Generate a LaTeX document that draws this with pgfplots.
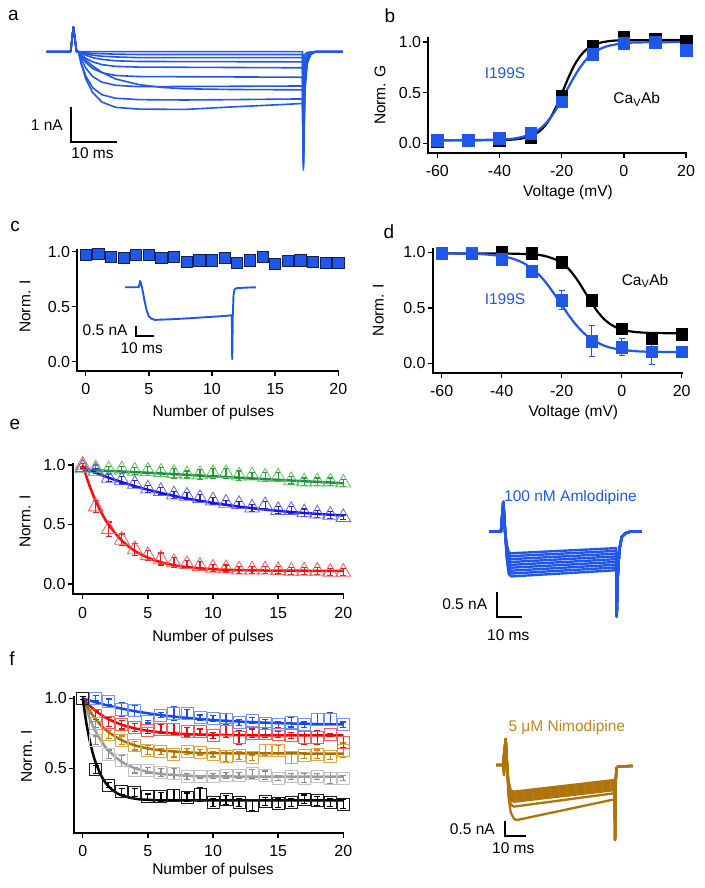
\documentclass[border=0pt]{standalone}
\usepackage{fontspec}
\setmainfont{Liberation Sans}
\usepackage{pgfplots}
\usepackage{pgfplotstable}
\pgfplotsset{compat=1.18}

\definecolor{blueT}{RGB}{31,87,232}
\definecolor{navyE}{RGB}{20,30,90}
\definecolor{gold}{RGB}{175,115,10}
\definecolor{goldtxt}{RGB}{195,135,25}
% panel e
\definecolor{eGl}{RGB}{90,200,90}\definecolor{eGd}{RGB}{40,160,40}\definecolor{eGf}{RGB}{30,140,70}
\definecolor{eBl}{RGB}{100,100,235}\definecolor{eBd}{RGB}{40,40,190}\definecolor{eBf}{RGB}{20,20,235}
\definecolor{eRl}{RGB}{250,90,90}\definecolor{eRd}{RGB}{225,30,30}\definecolor{eRf}{RGB}{255,10,10}
% panel f
\definecolor{fBl}{RGB}{110,150,250}\definecolor{fBd}{RGB}{30,80,230}\definecolor{fBf}{RGB}{20,70,250}
\definecolor{fRl}{RGB}{250,90,90}\definecolor{fRd}{RGB}{220,20,20}\definecolor{fRf}{RGB}{250,0,0}
\definecolor{fOl}{RGB}{225,170,60}\definecolor{fOd}{RGB}{205,135,20}\definecolor{fOf}{RGB}{170,110,0}
\definecolor{fGl}{RGB}{195,195,195}\definecolor{fGd}{RGB}{140,140,140}\definecolor{fGf}{RGB}{155,155,155}
\definecolor{fKl}{RGB}{30,30,30}

\newcommand\tk{\fontsize{16}{19}\selectfont}
\newcommand\lb{\fontsize{15.5}{18}\selectfont}
\newcommand\pl{\fontsize{19}{22}\selectfont}

\pgfplotsset{
  igor/.style={scale only axis, anchor=south west, clip=false,
    axis lines*=left, axis line style={line width=1.8pt, line cap=rect},
    tick align=outside, major tick length=5pt,
    tick style={black, line width=1.5pt},
    tick label style={font=\tk},
    xticklabel style={inner sep=1pt, yshift=-6.5pt},
    yticklabel style={inner sep=1pt, xshift=-1pt},
    minor tick num=0},
  trace/.style={scale only axis, anchor=south west, clip=false, hide axis},
  trB/.style={blueT, line width=1.6pt, line join=round},
  trW/.style={blueT, line width=2.4pt, line join=round},
  trG/.style={gold, line width=2.3pt, line join=round},
  bar/.style={black, line width=2pt, line join=miter},
  ebar/.style={error bars/.cd, y dir=both, y explicit,
    error bar style={#1, line width=1.2pt},
    error mark options={rotate=90, mark size=3pt, #1, line width=1.2pt}},
}

% panel b: normalised conductance
\pgfplotstableread{
v    bk    bl
-60  0.02  0.03
-50  0.03  0.03
-40  0.03  0.05
-30  0.06  0.10
-20  0.47  0.41
-10  0.96  0.88
0    1.05  0.99
10   1.03  1.00
20   1.01  0.92
}\tabB

% panel c
\pgfplotstableread{
n  v
0  0.97
1  0.98
2  0.95
3  0.94
4  0.97
5  0.97
6  0.945
7  0.955
8  0.91
9  0.92
10 0.92
11 0.945
12 0.90
13 0.92
14 0.95
15 0.89
16 0.915
17 0.92
18 0.91
19 0.895
20 0.90
}\tabC

% panel d: inactivation
\pgfplotstableread{
v    bk     bl     ble
-60  0.99   0.99   0.01
-50  0.99   0.99   0.01
-40  1.00   0.94   0.02
-30  0.99   0.83   0.03
-20  0.91   0.57   0.087
-10  0.57   0.20   0.14
0    0.31   0.145  0.075
10   0.225  0.105  0.115
20   0.26   0.105  0.01
}\tabD

% panel e: green / blue / red
\pgfplotstableread{
n  g     ge    b     be    r      re
0  0.97  0.01  0.98  0.01  1.00   0.01
1  0.97  0.03  0.95  0.02  0.65   0.05
2  0.96  0.03  0.89  0.03  0.46   0.06
3  0.96  0.03  0.87  0.03  0.37   0.05
4  0.95  0.03  0.84  0.03  0.29   0.05
5  0.95  0.04  0.80  0.03  0.24   0.04
6  0.94  0.04  0.78  0.03  0.21   0.05
7  0.93  0.04  0.75  0.03  0.18   0.04
8  0.92  0.03  0.74  0.03  0.165  0.03
9  0.92  0.04  0.72  0.03  0.15   0.04
10 0.93  0.04  0.70  0.03  0.135  0.03
11 0.93  0.04  0.68  0.02  0.13   0.03
12 0.91  0.04  0.67  0.02  0.12   0.03
13 0.91  0.03  0.64  0.03  0.12   0.03
14 0.90  0.04  0.66  0.03  0.12   0.03
15 0.90  0.04  0.62  0.03  0.115  0.03
16 0.87  0.03  0.62  0.03  0.11   0.03
17 0.86  0.03  0.60  0.03  0.11   0.03
18 0.86  0.03  0.59  0.03  0.11   0.03
19 0.86  0.03  0.58  0.03  0.10   0.03
20 0.85  0.03  0.56  0.02  0.10   0.03
}\tabE

% panel f: blue / red / gold / gray / black
\pgfplotstableread{
n  bl     ble    rd     rde   go     goe   gy     gye   bk     bke
0  1.00   0.01   1.00   0.01  1.00   0.01  1.00   0.01  1.00   0.01
1  1.00   0.02   0.88   0.03  0.82   0.03  0.70   0.03  0.49   0.03
2  0.975  0.02   0.83   0.03  0.74   0.03  0.60   0.03  0.38   0.02
3  0.92   0.05   0.81   0.03  0.70   0.03  0.555  0.04  0.333  0.02
4  0.91   0.04   0.79   0.03  0.66   0.03  0.486  0.02  0.326  0.03
5  0.833  0.01   0.77   0.02  0.63   0.03  0.486  0.02  0.297  0.02
6  0.88   0.02   0.78   0.03  0.62   0.02  0.47   0.03  0.297  0.03
7  0.893  0.05   0.78   0.04  0.60   0.02  0.46   0.04  0.307  0.04
8  0.89   0.03   0.76   0.03  0.62   0.02  0.44   0.02  0.293  0.03
9  0.86   0.02   0.76   0.02  0.615  0.02  0.44   0.01  0.312  0.05
10 0.857  0.02   0.733  0.02  0.60   0.02  0.445  0.02  0.257  0.03
11 0.85   0.04   0.78   0.06  0.585  0.04  0.45   0.02  0.274  0.03
12 0.826  0.02   0.72   0.05  0.59   0.03  0.45   0.02  0.255  0.03
13 0.84   0.02   0.75   0.03  0.575  0.02  0.46   0.03  0.238  0.04
14 0.817  0.03   0.75   0.03  0.63   0.04  0.45   0.03  0.264  0.03
15 0.81   0.02   0.74   0.02  0.625  0.04  0.43   0.02  0.25   0.03
16 0.83   0.035  0.735  0.02  0.575  0.04  0.44   0.02  0.257  0.03
17 0.81   0.02   0.72   0.05  0.59   0.02  0.43   0.03  0.279  0.03
18 0.85   0.04   0.72   0.05  0.60   0.03  0.44   0.02  0.267  0.03
19 0.85   0.045  0.74   0.01  0.585  0.02  0.43   0.04  0.255  0.03
20 0.81   0.02   0.686  0.04  0.63   0.05  0.43   0.02  0.245  0.03
}\tabF

\begin{document}
\begin{tikzpicture}
\useasboundingbox (0pt,0pt) rectangle (704pt,888pt);

%% ---------- a: current traces (ms, nA)
\begin{axis}[trace, at={(46.7pt,713.8pt)}, width=295.8pt, height=150.5pt,
  xmin=0, xmax=64.3, ymin=-3.5, ymax=0.8]
\addplot[trB] coordinates {(0,0)(5.2,0)(5.5,0.35)(5.8,0.71)(6.1,0.35)(6.5,0)(6.9,0)(55.6,0)(55.8,-0.3)(56.1,-0.08)(56.6,-0.02)(58.5,0)(64.3,0)};
\addplot[trB] coordinates {(0,0)(5.2,0)(5.8,0.71)(6.5,0)(6.9,0)(8.5,-0.03)(10,-0.05)(15,-0.07)(20,-0.08)(55.6,-0.08)(55.8,-1.2)(56.1,-0.28)(56.6,-0.07)(57.4,-0.01)(58.5,0)(64.3,0)};
\addplot[trB] coordinates {(0,0)(5.2,0)(5.8,0.71)(6.5,0)(6.9,0)(7.5,-0.02)(8.5,-0.06)(10,-0.10)(12,-0.13)(15,-0.15)(20,-0.17)(55.6,-0.17)(55.8,-1.8)(56.1,-0.42)(56.6,-0.1)(57.4,-0.02)(58.5,0)(64.3,0)};
\addplot[trB] coordinates {(0,0)(5.2,0)(5.8,0.71)(6.5,0)(6.9,0)(7.5,-0.05)(8.5,-0.10)(10,-0.17)(12,-0.22)(15,-0.26)(20,-0.28)(55.6,-0.29)(55.8,-2.2)(56.1,-0.55)(56.6,-0.14)(57.4,-0.03)(58.5,0)(64.3,0)};
\addplot[trB] coordinates {(0,0)(5.2,0)(5.8,0.71)(6.5,0)(6.9,0)(7.5,-0.08)(8.5,-0.19)(10,-0.29)(12,-0.37)(15,-0.42)(20,-0.44)(55.6,-0.46)(55.8,-2.6)(56.1,-0.7)(56.6,-0.18)(57.4,-0.04)(58.5,0)(64.3,0)};
\addplot[trB] coordinates {(0,0)(5.2,0)(5.8,0.71)(6.5,0)(6.9,0)(7.5,-0.14)(8.5,-0.31)(10,-0.48)(12,-0.60)(15,-0.68)(20,-0.71)(55.6,-0.73)(55.8,-2.9)(56.1,-0.85)(56.6,-0.22)(57.4,-0.05)(58.5,0)(64.3,0)};
\addplot[trB] coordinates {(0,0)(5.2,0)(5.8,0.71)(6.5,0)(6.9,0)(7.5,-0.21)(8.5,-0.47)(10,-0.71)(12,-0.87)(15,-0.96)(20,-1.0)(55.6,-0.98)(55.8,-3.1)(56.1,-0.95)(56.6,-0.26)(57.4,-0.05)(58.5,0)(64.3,0)};
\addplot[trB] coordinates {(0,0)(5.2,0)(5.8,0.71)(6.5,0)(6.9,0)(7.5,-0.10)(8.5,-0.24)(10,-0.41)(12,-0.59)(15,-0.78)(20,-0.94)(25,-1.02)(30,-1.06)(40,-1.08)(55.6,-1.09)(55.8,-3.2)(56.1,-1.0)(56.6,-0.28)(57.4,-0.06)(58.5,0)(64.3,0)};
\addplot[trB] coordinates {(0,0)(5.2,0)(5.8,0.71)(6.5,0)(6.9,0)(7.5,-0.33)(8.5,-0.70)(10,-1.03)(12,-1.23)(15,-1.33)(20,-1.37)(30,-1.38)(40,-1.37)(55.6,-1.35)(55.8,-3.3)(56.1,-1.1)(56.6,-0.3)(57.4,-0.07)(58.5,0)(64.3,0)};
\addplot[trB] coordinates {(0,0)(5.2,0)(5.8,0.71)(6.5,0)(6.9,0)(7.5,-0.35)(8.5,-0.78)(10,-1.17)(12,-1.44)(15,-1.59)(20,-1.64)(30,-1.65)(40,-1.58)(48,-1.53)(55.6,-1.48)(55.8,-3.38)(56.1,-1.2)(56.6,-0.35)(57.4,-0.08)(58.5,0)(64.3,0)};
% scale bar 1 nA / 10 ms
\addplot[bar] coordinates {(5.2,-1.57)(5.2,-2.57)(15.2,-2.57)};
\end{axis}

%% ---------- b: activation
\begin{axis}[igor, at={(428.3pt,735.3pt)}, width=257.7pt, height=114.7pt,
  xmin=-62.9, xmax=20, ymin=-0.093, ymax=1.04,
  xtick={-60,-40,-20,0,20}, xticklabels={-60,-40,-20,0,20},
  ytick={0,0.5,1}, yticklabels={0.0,0.5,1.0}]
\addplot[only marks, mark=square*, mark size=5.8pt, mark options={black, fill=black}] table[x=v, y=bk] {\tabB};
\addplot[black, line width=2.2pt, smooth] coordinates {(-60,0.03)(-40,0.032)(-34,0.042)(-30,0.069)(-28,0.100)(-26,0.151)(-24,0.232)(-22,0.346)(-20,0.487)(-18,0.636)(-16,0.766)(-14,0.863)(-12,0.928)(-10,0.967)(-8,0.990)(-5,1.008)(0,1.017)(20,1.02)};
\addplot[only marks, mark=square*, mark size=5.8pt, mark options={blueT, fill=blueT}] table[x=v, y=bl] {\tabB};
\addplot[blueT, line width=2.2pt, smooth] coordinates {(-60,0.03)(-40,0.036)(-34,0.054)(-30,0.089)(-28,0.122)(-26,0.169)(-24,0.236)(-22,0.324)(-20,0.429)(-18,0.544)(-16,0.655)(-14,0.752)(-12,0.830)(-10,0.887)(-8,0.926)(-5,0.962)(0,0.988)(5,0.996)(20,1.0)};
\end{axis}

%% ---------- c: use dependence, I199S
\begin{axis}[igor, at={(77.3pt,517.3pt)}, width=261pt, height=120.7pt,
  xmin=-0.665, xmax=20, ymin=-0.082, ymax=1.015,
  xtick={0,5,10,15,20}, xticklabels={0,5,10,15,20},
  ytick={0,0.5,1}, yticklabels={0.0,0.5,1.0}]
\addplot[only marks, mark=square*, mark size=5.6pt, mark options={draw=navyE, fill=blueT, line width=0.8pt}] table[x=n, y=v] {\tabC};
\end{axis}
\begin{axis}[trace, at={(125pt,526.7pt)}, width=131pt, height=82pt,
  xmin=0, xmax=71.6, ymin=-3.7, ymax=0.4]
\addplot[blueT, line width=1.9pt, line join=round] coordinates {(0,0)(7.5,0)(8.0,0.2)(8.3,0.32)(8.8,0.15)(9.3,0)(10.5,-0.6)(11.8,-1.15)(13,-1.45)(14.5,-1.57)(16.4,-1.63)(25,-1.6)(35,-1.55)(45,-1.49)(55,-1.43)(58.4,-1.40)(58.6,-3.6)(58.9,-1.5)(59.3,-0.4)(59.8,-0.12)(60.7,-0.05)(65,-0.02)(71.6,0)};
\addplot[bar] coordinates {(6,-1.94)(6,-2.44)(16,-2.44)};
\end{axis}

%% ---------- d: inactivation
\begin{axis}[igor, at={(432.7pt,515.3pt)}, width=249pt, height=123.4pt,
  xmin=-63, xmax=20, ymin=-0.085, ymax=1.027,
  xtick={-60,-40,-20,0,20}, xticklabels={-60,-40,-20,0,20},
  ytick={0,0.5,1}, yticklabels={0.0,0.5,1.0}]
\addplot[only marks, mark=square*, mark size=5.8pt, mark options={black, fill=black}] table[x=v, y=bk] {\tabD};
\addplot[black, line width=2.2pt, smooth] coordinates {(-60,0.990)(-40,0.989)(-30,0.982)(-26,0.969)(-22,0.935)(-20,0.904)(-18,0.859)(-16,0.796)(-14,0.718)(-12,0.630)(-10,0.542)(-8,0.464)(-6,0.401)(-4,0.356)(-2,0.325)(0,0.304)(4,0.283)(10,0.273)(20,0.27)};
\addplot[blueT, only marks, mark=square*, mark size=5.8pt, mark options={blueT, fill=blueT}, ebar=blueT] table[x=v, y=bl, y error=ble] {\tabD};
\addplot[blueT, line width=2.2pt, smooth] coordinates {(-60,0.989)(-50,0.986)(-45,0.980)(-40,0.965)(-36,0.940)(-32,0.892)(-28,0.809)(-26,0.751)(-24,0.682)(-22,0.605)(-20,0.525)(-18,0.446)(-16,0.372)(-14,0.309)(-12,0.256)(-10,0.215)(-6,0.160)(-2,0.130)(4,0.110)(10,0.103)(20,0.101)};
\end{axis}

%% ---------- e: use dependence with drugs
\begin{axis}[igor, at={(72.7pt,293.7pt)}, width=270.6pt, height=130.5pt,
  xmin=-0.767, xmax=20, ymin=-0.087, ymax=1.01,
  xtick={0,5,10,15,20}, xticklabels={0,5,10,15,20},
  ytick={0,0.5,1}, yticklabels={0.0,0.5,1.0}]
\addplot[eGl, only marks, mark=triangle, mark size=8.5pt, mark options={line width=0.8pt}, ebar=eGd] table[x=n, y=g, y error=ge] {\tabE};
\addplot[eBl, only marks, mark=triangle, mark size=8.5pt, mark options={line width=0.8pt}, ebar=eBd] table[x=n, y=b, y error=be] {\tabE};
\addplot[eRl, only marks, mark=triangle, mark size=8.5pt, mark options={line width=0.8pt}, ebar=eRd] table[x=n, y=r, y error=re] {\tabE};
\addplot[eGf, line width=2.5pt] coordinates {(0,0.96)(5,0.935)(10,0.905)(15,0.875)(20,0.847)};
\addplot[eBf, line width=2.5pt, smooth] coordinates {(0,0.98)(2,0.893)(4,0.822)(6,0.765)(8,0.718)(10,0.681)(12,0.650)(14,0.625)(16,0.605)(18,0.589)(20,0.576)};
\addplot[eRf, line width=2.5pt, smooth] coordinates {(0,1.0)(0.5,0.833)(1,0.697)(1.5,0.586)(2,0.497)(3,0.365)(4,0.278)(5,0.221)(6,0.183)(7,0.158)(8,0.142)(10,0.124)(12,0.116)(15,0.112)(20,0.110)};
\end{axis}
\begin{axis}[trace, at={(489.3pt,243.2pt)}, width=152.4pt, height=149.1pt,
  xmin=0, xmax=62.7, ymin=-2.2, ymax=0.7]
\addplot[trW] coordinates {(0,0)(4.8,0)(5.2,0.3)(5.76,0.58)(6.2,0.3)(6.5,0)(7.2,-0.252)(8,-0.399)(9,-0.42)(52.2,-0.32)(52.4,-1.65)(52.8,-0.9)(53.5,-0.35)(54.5,-0.1)(56,-0.03)(58,0)(62.7,0)};
\addplot[trW] coordinates {(0,0)(4.8,0)(5.76,0.58)(6.5,0)(7.2,-0.286)(8,-0.452)(9,-0.476)(52.2,-0.374)(52.4,-1.65)(52.8,-0.9)(53.5,-0.35)(54.5,-0.1)(56,-0.03)(58,0)(62.7,0)};
\addplot[trW] coordinates {(0,0)(4.8,0)(5.76,0.58)(6.5,0)(7.2,-0.320)(8,-0.506)(9,-0.533)(52.2,-0.428)(52.4,-1.65)(52.8,-0.9)(53.5,-0.35)(54.5,-0.1)(56,-0.03)(58,0)(62.7,0)};
\addplot[trW] coordinates {(0,0)(4.8,0)(5.76,0.58)(6.5,0)(7.2,-0.353)(8,-0.560)(9,-0.589)(52.2,-0.481)(52.4,-1.65)(52.8,-0.9)(53.5,-0.35)(54.5,-0.1)(56,-0.03)(58,0)(62.7,0)};
\addplot[trW] coordinates {(0,0)(4.8,0)(5.76,0.58)(6.5,0)(7.2,-0.387)(8,-0.613)(9,-0.645)(52.2,-0.535)(52.4,-1.65)(52.8,-0.9)(53.5,-0.35)(54.5,-0.1)(56,-0.03)(58,0)(62.7,0)};
\addplot[trW] coordinates {(0,0)(4.8,0)(5.76,0.58)(6.5,0)(7.2,-0.421)(8,-0.666)(9,-0.701)(52.2,-0.589)(52.4,-1.65)(52.8,-0.9)(53.5,-0.35)(54.5,-0.1)(56,-0.03)(58,0)(62.7,0)};
\addplot[trW] coordinates {(0,0)(4.8,0)(5.76,0.58)(6.5,0)(7.2,-0.455)(8,-0.720)(9,-0.758)(52.2,-0.643)(52.4,-1.65)(52.8,-0.9)(53.5,-0.35)(54.5,-0.1)(56,-0.03)(58,0)(62.7,0)};
\addplot[trW] coordinates {(0,0)(4.8,0)(5.76,0.58)(6.5,0)(7.2,-0.488)(8,-0.773)(9,-0.814)(52.2,-0.696)(52.4,-1.65)(52.8,-0.9)(53.5,-0.35)(54.5,-0.1)(56,-0.03)(58,0)(62.7,0)};
\addplot[trW] coordinates {(0,0)(4.8,0)(5.76,0.58)(6.5,0)(7.2,-0.522)(8,-0.827)(9,-0.870)(52.2,-0.750)(52.4,-1.65)(52.8,-0.9)(53.5,-0.35)(54.5,-0.1)(56,-0.03)(58,0)(62.7,0)};
\addplot[bar] coordinates {(3.3,-1.17)(3.3,-1.665)(13.3,-1.665)};
\end{axis}

%% ---------- f: use dependence, several drugs
\begin{axis}[igor, at={(74pt,55.3pt)}, width=269.3pt, height=135.8pt,
  xmin=-0.67, xmax=20, ymin=0.04, ymax=1.01,
  xtick={0,5,10,15,20}, xticklabels={0,5,10,15,20},
  ytick={0.5,1}, yticklabels={0.5,1.0}]
\addplot[fGl, only marks, mark=square, mark size=6pt, mark options={line width=0.9pt}, ebar=fGd] table[x=n, y=gy, y error=gye] {\tabF};
\addplot[fOl, only marks, mark=square, mark size=6pt, mark options={line width=0.9pt}, ebar=fOd] table[x=n, y=go, y error=goe] {\tabF};
\addplot[fRl, only marks, mark=square, mark size=6pt, mark options={line width=0.9pt}, ebar=fRd] table[x=n, y=rd, y error=rde] {\tabF};
\addplot[fBl, only marks, mark=square, mark size=6pt, mark options={line width=0.9pt}, ebar=fBd] table[x=n, y=bl, y error=ble] {\tabF};
\addplot[fKl, only marks, mark=square, mark size=6pt, mark options={line width=0.9pt}, ebar=black] table[x=n, y=bk, y error=bke] {\tabF};
\addplot[fGf, line width=2.5pt, smooth] coordinates {(0,1.0)(0.5,0.864)(1,0.761)(1.5,0.683)(2,0.624)(3,0.546)(4,0.501)(5,0.475)(6,0.460)(8,0.447)(10,0.442)(20,0.44)};
\addplot[fOf, line width=2.5pt, smooth] coordinates {(0,1.0)(0.5,0.916)(1,0.850)(1.5,0.798)(2,0.757)(3,0.700)(4,0.664)(5,0.642)(6,0.628)(8,0.614)(10,0.608)(20,0.605)};
\addplot[fRf, line width=2.5pt, smooth] coordinates {(0,1.0)(0.5,0.950)(1,0.910)(1.5,0.877)(2,0.850)(3,0.811)(4,0.785)(5,0.768)(6,0.757)(8,0.744)(10,0.739)(13,0.736)(20,0.735)};
\addplot[fBf, line width=2.5pt, smooth] coordinates {(0,1.0)(1,0.971)(2,0.947)(3,0.926)(4,0.908)(5,0.893)(6,0.880)(8,0.860)(10,0.845)(12,0.834)(14,0.826)(16,0.820)(18,0.816)(20,0.813)};
\addplot[black, line width=2.5pt, smooth] coordinates {(0,1.0)(0.25,0.839)(0.5,0.713)(0.75,0.615)(1,0.539)(1.5,0.433)(2,0.369)(2.5,0.330)(3,0.306)(4,0.283)(5,0.275)(7,0.271)(20,0.27)};
\end{axis}
\begin{axis}[trace, at={(496pt,43.4pt)}, width=136.7pt, height=110.2pt,
  xmin=0, xmax=65.1, ymin=-2.6, ymax=1.0]
\addplot[trG] coordinates {(0,0)(3.3,0)(3.8,-0.33)(4.2,0)(4.6,0.85)(5.1,0.2)(5.9,-0.522)(7.0,-0.827)(8.5,-0.87)(56.5,-0.49)(56.7,-2.45)(57.0,-0.5)(57.4,-0.1)(58,-0.05)(65.1,-0.03)};
\addplot[trG] coordinates {(0,0)(3.3,0)(3.8,-0.33)(4.2,0)(4.6,0.85)(5.1,0.2)(5.9,-0.562)(7.0,-0.889)(8.5,-0.936)(56.5,-0.556)(56.7,-2.45)(57.0,-0.5)(57.4,-0.1)(58,-0.05)(65.1,-0.03)};
\addplot[trG] coordinates {(0,0)(3.3,0)(4.6,0.85)(5.1,0.2)(5.9,-0.601)(7.0,-0.952)(8.5,-1.002)(56.5,-0.622)(56.7,-2.45)(57.0,-0.5)(57.4,-0.1)(58,-0.05)(65.1,-0.03)};
\addplot[trG] coordinates {(0,0)(3.3,0)(4.6,0.85)(5.1,0.2)(5.9,-0.641)(7.0,-1.015)(8.5,-1.068)(56.5,-0.688)(56.7,-2.45)(57.0,-0.5)(57.4,-0.1)(58,-0.05)(65.1,-0.03)};
\addplot[trG] coordinates {(0,0)(3.3,0)(4.6,0.85)(5.1,0.2)(5.9,-0.680)(7.0,-1.077)(8.5,-1.134)(56.5,-0.754)(56.7,-2.45)(57.0,-0.5)(57.4,-0.1)(58,-0.05)(65.1,-0.03)};
\addplot[trG] coordinates {(0,0)(3.3,0)(4.6,0.85)(5.1,0.2)(5.9,-0.72)(7.0,-1.14)(8.5,-1.2)(56.5,-0.82)(56.7,-2.45)(57.0,-0.5)(57.4,-0.1)(58,-0.05)(65.1,-0.03)};
\addplot[trG] coordinates {(0,0)(3.3,0)(4.6,0.85)(5.1,0.2)(5.9,-0.816)(7.0,-1.292)(8.5,-1.36)(56.5,-0.92)(56.7,-2.45)(57.0,-0.5)(57.4,-0.1)(58,-0.05)(65.1,-0.03)};
\addplot[trG] coordinates {(0,0)(3.3,0)(4.6,0.85)(5.1,0.2)(5.9,-1.0)(7.0,-1.55)(8.5,-1.75)(9.8,-1.80)(56.5,-1.12)(56.7,-2.45)(57.0,-0.5)(57.4,-0.1)(58,-0.05)(65.1,-0.03)};
\addplot[bar] coordinates {(4.3,-1.82)(4.3,-2.32)(14.3,-2.32)};
\end{axis}

%% ---------- texts
\begin{scope}[x=1pt, y=1pt, every node/.style={inner sep=0pt, font=\lb}]
\node[font=\pl] at (13.5,872.5) {a};
\node[font=\pl] at (390,872.3) {b};
\node[font=\pl] at (15,661.3) {c};
\node[font=\pl] at (389,656.7) {d};
\node[font=\pl] at (15,464) {e};
\node[font=\pl] at (12,229) {f};
% axis labels
\node[rotate=90] at (380,793) {Norm. G};
\node at (568,695) {Voltage (mV)};
\node[rotate=90] at (25,581.3) {Norm. I};
\node at (213.3,475.3) {Number of pulses};
\node[rotate=90] at (378.3,578) {Norm. I};
\node at (573.3,475.3) {Voltage (mV)};
\node[rotate=90] at (25,366.3) {Norm. I};
\node at (213,251) {Number of pulses};
\node[rotate=90] at (26.7,131.3) {Norm. I};
\node at (213,18) {Number of pulses};
% annotations
\node[blueT] at (505,815.3) {I199S};
\node at (636.7,788.7) {Ca\textsubscript{V}Ab};
\node at (645,607.3) {Ca\textsubscript{V}Ab};
\node[blueT] at (505,588.7) {I199S};
\node[anchor=east] at (63,763) {1 nA};
\node at (92.5,735) {10 ms};
\node[anchor=east] at (127.7,558) {0.5 nA};
\node at (141.7,539.7) {10 ms};
\node[anchor=west, blueT] at (504,390.7) {100 nM Amlodipine};
\node[anchor=east] at (487.3,283.7) {0.5 nA};
\node at (508.3,253) {10 ms};
\node[anchor=west, goldtxt] at (508.3,160.7) {5 μM Nimodipine};
\node[anchor=east] at (495,59.3) {0.5 nA};
\node at (513.3,39.7) {10 ms};
\end{scope}
\end{tikzpicture}
\end{document}
